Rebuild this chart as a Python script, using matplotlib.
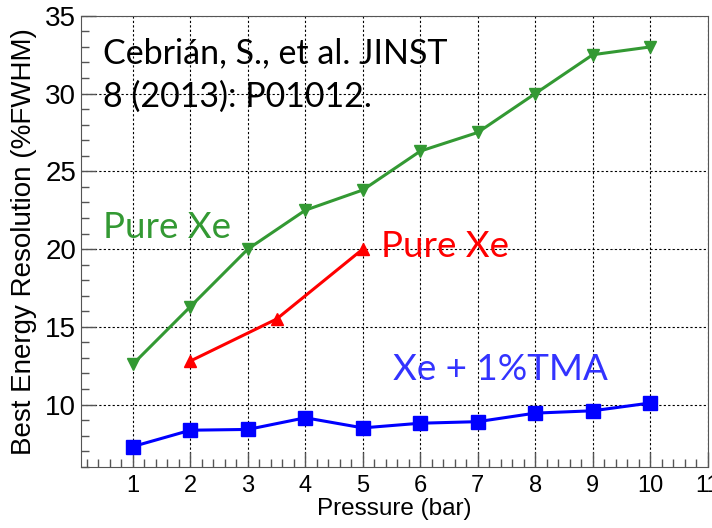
import numpy as np
import matplotlib
matplotlib.use('Agg')
from matplotlib import pyplot as plt
from matplotlib.ticker import MultipleLocator

# pressure (bar) and best energy resolution (%FWHM)
p_green = [1, 2, 3, 4, 5, 6, 7, 8, 9, 10]
res_green = [12.6, 16.3, 20.0, 22.5, 23.8, 26.3, 27.5, 30.0, 32.5, 33.0]

p_red = [2, 3.5, 5]
res_red = [12.8, 15.5, 20.0]

p_blue = [1, 2, 3, 4, 5, 6, 7, 8, 9, 10]
res_blue = [7.3, 8.35, 8.4, 9.15, 8.5, 8.8, 8.9, 9.45, 9.6, 10.1]

xticks = [1, 2, 3, 4, 5, 6, 7, 8, 9, 10, 11]
yticks = [10, 15, 20, 25, 30, 35]

plt.rcParams['font.family'] = ['Liberation Sans', 'DejaVu Sans']

fig = plt.figure(figsize=(7.12, 5.28), dpi=100)
ax = fig.add_axes([0.114, 0.116, 0.880, 0.854])

green = '#339933'
ax.plot(p_green, res_green, '-v', color=green, lw=2.2, ms=9, zorder=3)
ax.plot(p_red, res_red, '-^', color='#ff0000', lw=2.2, ms=9, zorder=3)
ax.plot(p_blue, res_blue, '-s', color='#0000ff', lw=2.2, ms=10.5, zorder=3)

ax.set_xlim(0.1, 11)
ax.set_ylim(6, 35)
ax.set_xticks(xticks)
ax.set_yticks(yticks)
ax.xaxis.set_minor_locator(MultipleLocator(0.2))
ax.yaxis.set_minor_locator(MultipleLocator(1))
ax.tick_params(which='both', direction='in', top=False, right=False,
               color='#555555')
ax.tick_params(which='major', length=11, width=1)
ax.tick_params(which='minor', length=6, width=1)
ax.tick_params(axis='x', pad=6, labelsize=17)
ax.tick_params(axis='y', labelsize=20)
for s in ax.spines.values():
    s.set_color('#555555')

ax.grid(True, which='major', color='black', lw=0.8, ls=(0, (2, 2)))
ax.set_axisbelow(True)

ax.set_xlabel('Pressure (bar)', fontsize=17.5, labelpad=1)
ax.set_ylabel('Best Energy Resolution (%FWHM)', fontsize=20, labelpad=6)

cal = ['Lato', 'DejaVu Sans']
ax.text(0.48, 31.98, 'Cebrián, S., et al. JINST', family=cal,
        fontsize=24.5, color='black', va='baseline')
ax.text(0.48, 29.14, '8 (2013): P01012.', family=cal,
        fontsize=24.5, color='black', va='baseline')
ax.text(0.48, 20.71, 'Pure Xe', family=cal, fontsize=26.5, color=green, va='baseline')
ax.text(5.31, 19.49, 'Pure Xe', family=cal, fontsize=26.5, color='#ff0000', va='baseline')
ax.text(5.53, 11.58, 'Xe + 1%TMA', family=cal, fontsize=26.5, color='#3333ff', va='baseline')

fig.savefig('out.png', dpi=100)
